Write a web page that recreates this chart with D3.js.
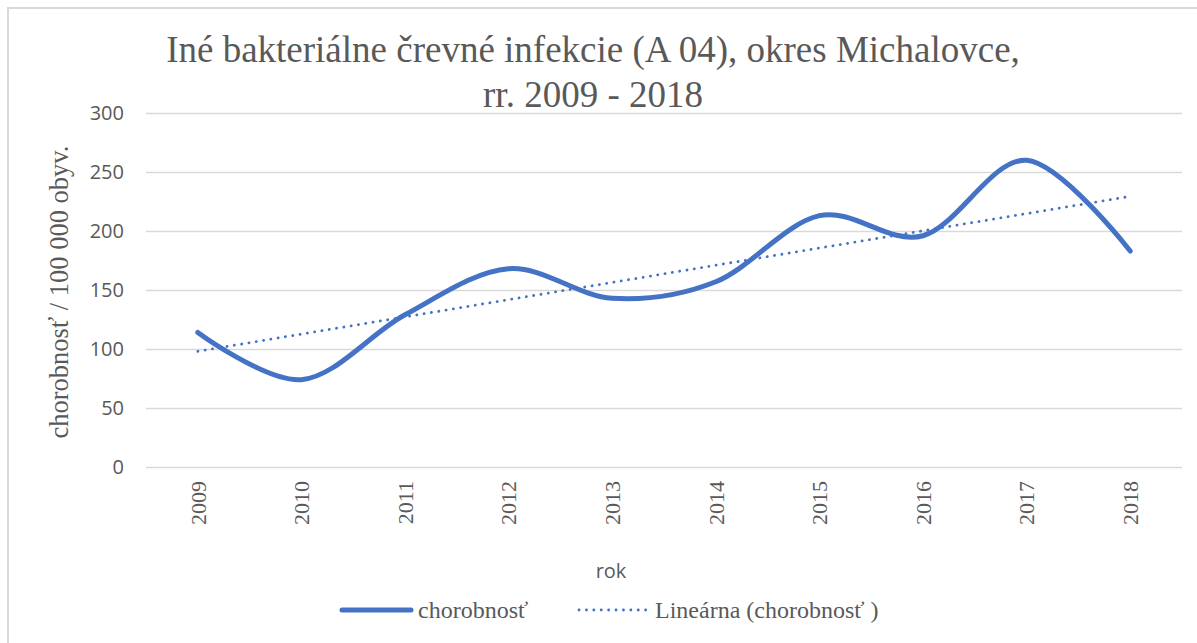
<!DOCTYPE html>
<html>
<head>
<meta charset="utf-8">
<script src="https://cdn.jsdelivr.net/npm/d3@7"></script>
<style>
  body { margin: 0; background: #fff; }
  svg { display: block; }
</style>
</head>
<body>
<svg id="chart" width="1197" height="643"></svg>
<script>
// data
const years = ['2009', '2010', '2011', '2012', '2013', '2014', '2015', '2016', '2017', '2018'];
const chorobnost = [114, 74, 129, 168, 143, 157, 213, 196, 260, 183];
const yTicks = [0, 50, 100, 150, 200, 250, 300];

const titleLines = ['Iné bakteriálne črevné infekcie (A 04), okres Michalovce,', 'rr. 2009 - 2018'];
const yTitle = 'chorobnosť / 100 000 obyv.';
const xTitle = 'rok';
const legendNames = ['chorobnosť', 'Lineárna (chorobnosť )'];

const blue = '#4472C4';
const textColor = '#595959';
const serif = '"Liberation Serif", "Times New Roman", serif';
const sans = '"Open Sans", "Noto Sans", sans-serif';

const svg = d3.select('#chart');
const plot = { left: 146, right: 1182, top: 113, bottom: 467 };

// chart frame (right and bottom edges fall outside the picture)
svg.append('rect')
    .attr('x', 8).attr('y', 8)
    .attr('width', 1200).attr('height', 660)
    .attr('fill', '#fff')
    .attr('stroke', '#d9d9d9')
    .attr('stroke-width', 2);

const x = d3.scaleBand().domain(years).range([plot.left, plot.right]);
const y = d3.scaleLinear().domain([0, 300]).range([plot.bottom, plot.top]);
const cx = d => x(d) + x.bandwidth() / 2;

// gridlines
const grid = svg.append('g')
    .attr('transform', `translate(${plot.left},0)`)
    .call(d3.axisLeft(y).tickValues(yTicks).tickSize(-(plot.right - plot.left)).tickFormat(''));
grid.select('.domain').remove();
grid.selectAll('line').attr('stroke', '#d9d9d9').attr('stroke-width', 1.5);

// y axis labels
const yAxis = svg.append('g')
    .attr('transform', `translate(${plot.left},0)`)
    .call(d3.axisLeft(y).tickValues(yTicks).tickSize(0).tickPadding(22));
yAxis.select('.domain').remove();
yAxis.selectAll('text')
    .attr('fill', textColor)
    .style('font-family', sans)
    .style('font-size', '20px');

// x axis labels, rotated
const xAxis = svg.append('g')
    .attr('transform', `translate(0,${plot.bottom})`)
    .call(d3.axisBottom(x).tickSize(0));
xAxis.select('.domain').remove();
xAxis.selectAll('text')
    .attr('fill', textColor)
    .style('font-family', serif)
    .style('font-size', '22px')
    .attr('text-anchor', 'end')
    .attr('dy', '0.35em')
    .attr('transform', 'translate(0,14) rotate(-90)')
    .attr('x', 0).attr('y', 0);

// linear trend (least squares on the series, as Excel does)
const idx = years.map((d, i) => i);
const mx = d3.mean(idx), my = d3.mean(chorobnost);
const slope = d3.sum(idx, i => (i - mx) * (chorobnost[i] - my)) / d3.sum(idx, i => (i - mx) ** 2);
const icpt = my - slope * mx;

svg.append('path')
    .datum(years)
    .attr('fill', 'none')
    .attr('stroke', blue)
    .attr('stroke-width', 2.8)
    .attr('stroke-linecap', 'round')
    .attr('stroke-dasharray', '0.1 7.3')
    .attr('d', d3.line().x(d => cx(d)).y((d, i) => y(icpt + slope * i)));

// smoothed series line
svg.append('path')
    .datum(chorobnost)
    .attr('fill', 'none')
    .attr('stroke', blue)
    .attr('stroke-width', 5)
    .attr('stroke-linecap', 'round')
    .attr('d', d3.line().curve(d3.curveCatmullRom.alpha(0)).x((d, i) => cx(years[i])).y(d => y(d)));

// title
svg.append('text')
    .attr('x', 593).attr('y', 62)
    .attr('text-anchor', 'middle')
    .attr('fill', textColor)
    .style('font-family', serif)
    .style('font-size', '37px')
    .selectAll('tspan')
    .data(titleLines)
    .join('tspan')
    .attr('x', 593)
    .attr('dy', (d, i) => i === 0 ? 0 : 45)
    .text(d => d);

// axis titles
svg.append('text')
    .attr('transform', `translate(68,${(plot.top + plot.bottom) / 2 + 2}) rotate(-90)`)
    .attr('text-anchor', 'middle')
    .attr('fill', textColor)
    .style('font-family', serif)
    .style('font-size', '26.5px')
    .text(yTitle);

svg.append('text')
    .attr('x', 611).attr('y', 578)
    .attr('text-anchor', 'middle')
    .attr('fill', textColor)
    .style('font-family', sans)
    .style('font-size', '20px')
    .text(xTitle);

// legend
const legend = svg.append('g').attr('transform', 'translate(0,610)');
legend.append('line')
    .attr('x1', 342).attr('x2', 411)
    .attr('stroke', blue).attr('stroke-width', 5).attr('stroke-linecap', 'round');
legend.append('line')
    .attr('x1', 579).attr('x2', 650)
    .attr('stroke', blue).attr('stroke-width', 2.8)
    .attr('stroke-linecap', 'round').attr('stroke-dasharray', '0.1 7.3');
legend.selectAll('text.lg')
    .data(legendNames)
    .join('text')
    .attr('class', 'lg')
    .attr('x', (d, i) => i === 0 ? 418 : 655)
    .attr('y', 8)
    .attr('fill', textColor)
    .style('font-family', serif)
    .style('font-size', '24px')
    .text(d => d);
</script>
</body>
</html>
